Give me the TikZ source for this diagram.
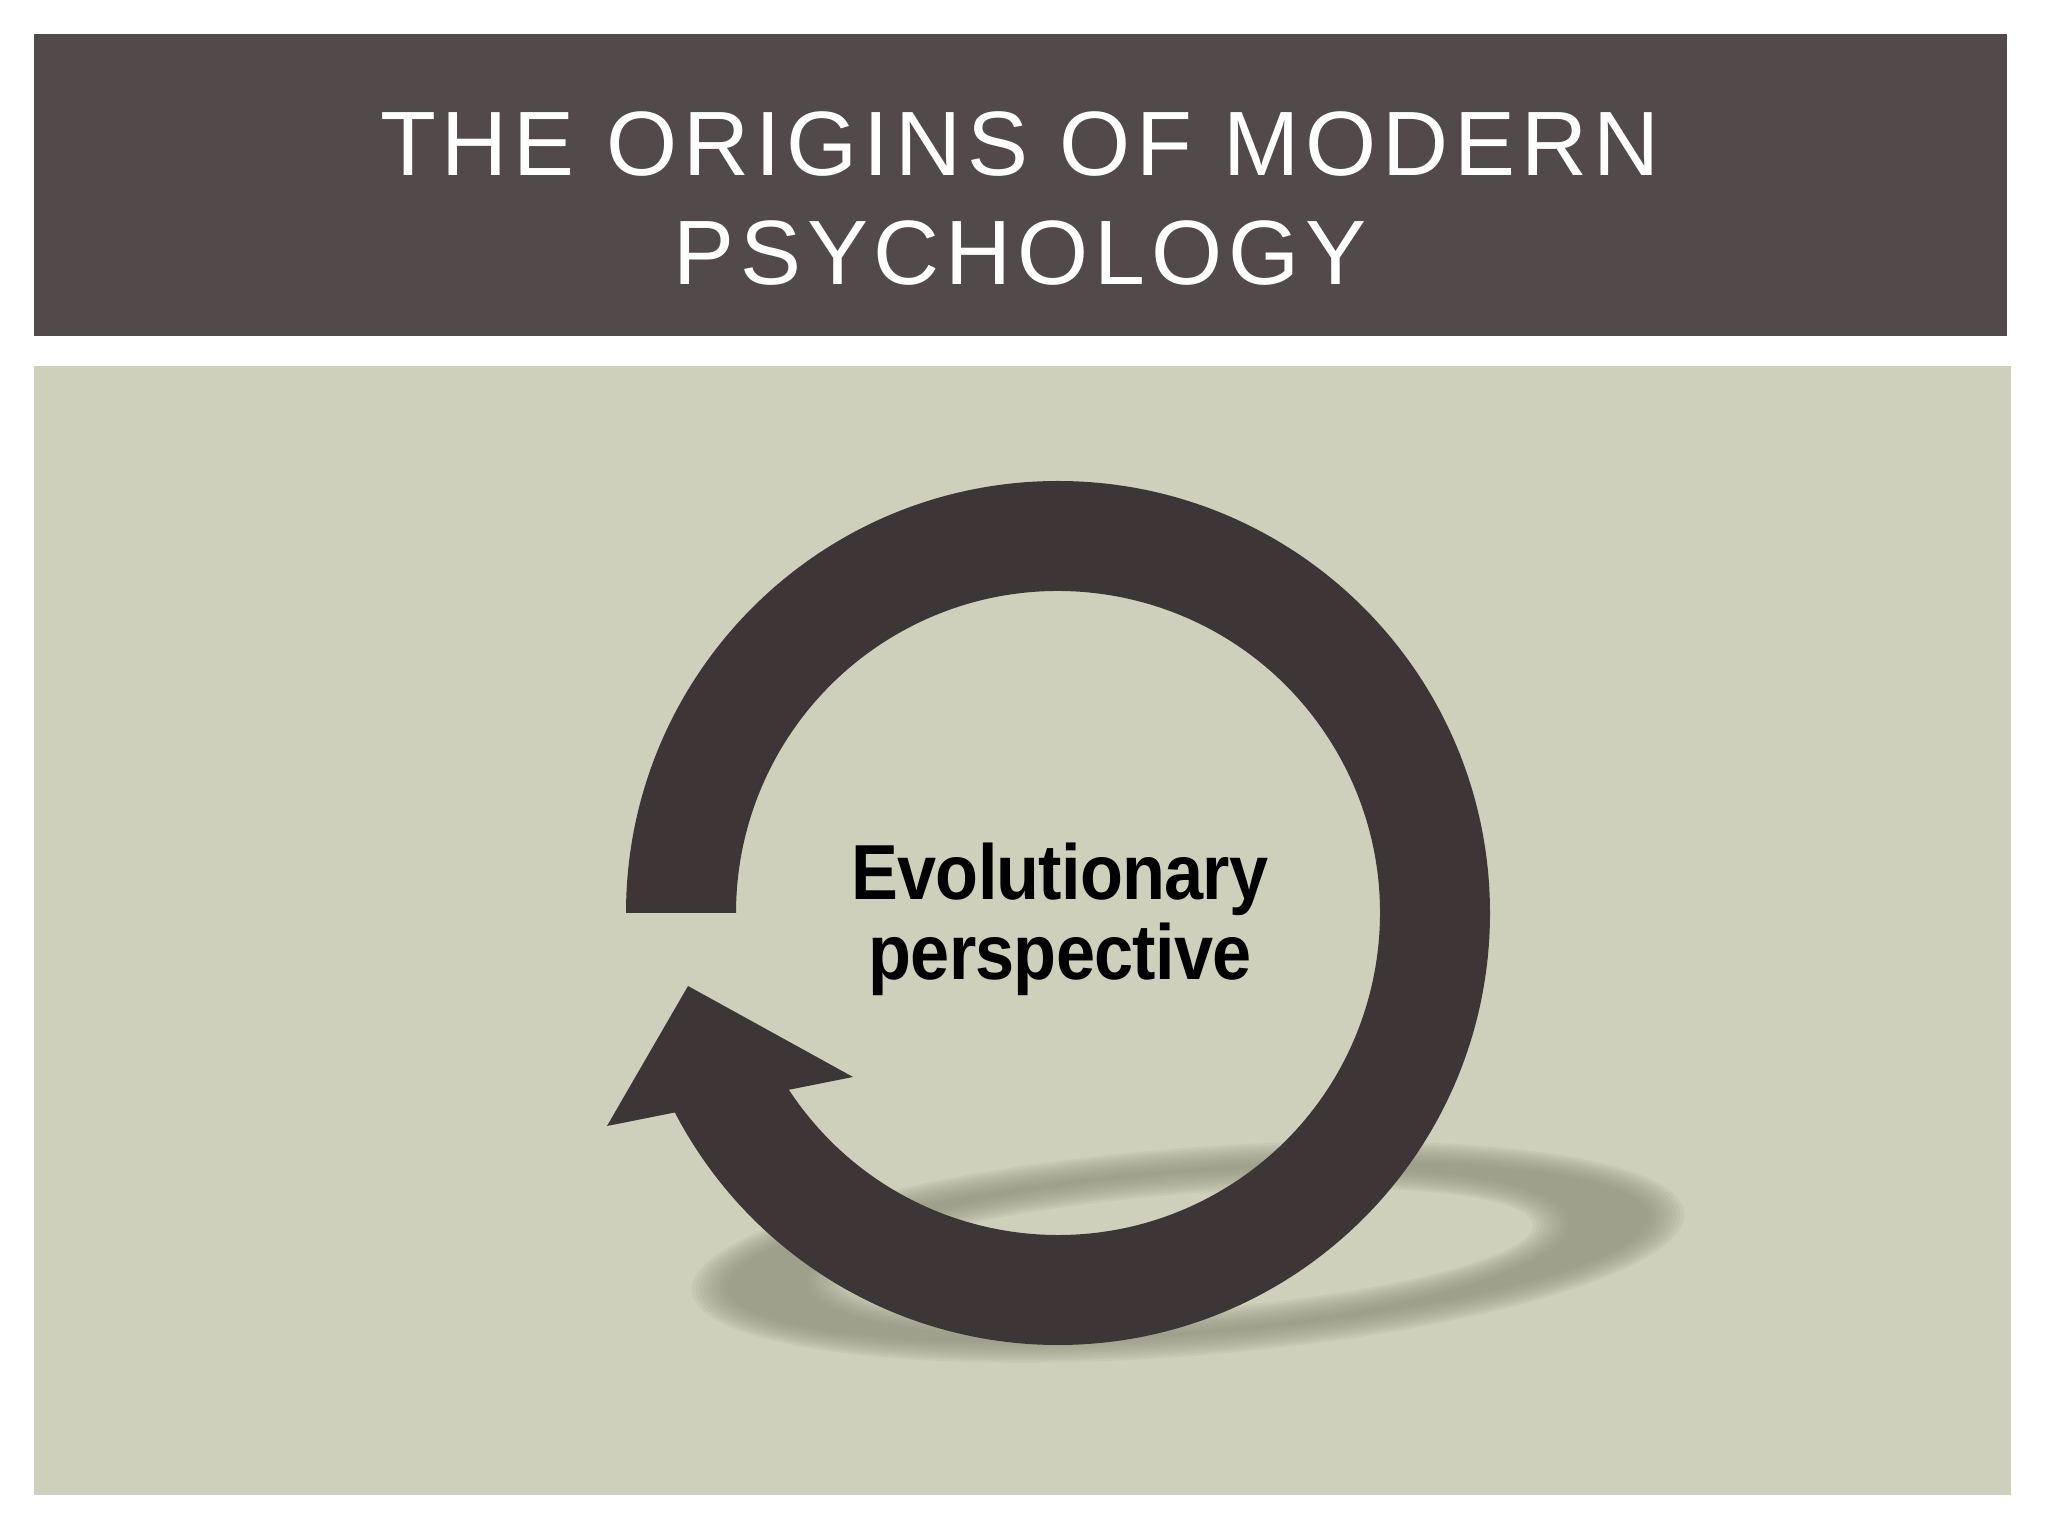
\documentclass[tikz,border=0pt]{standalone}
\usepackage{fontspec}
\setmainfont{Liberation Sans}
\newfontfamily\titlefont[LetterSpace=6.5]{Liberation Sans}
\newfontfamily\labelfont[FakeStretch=0.9, LetterSpace=-1]{Liberation Sans Bold}
\definecolor{barbrown}{HTML}{524A4A}
\definecolor{panelgreen}{HTML}{CED0BB}
\definecolor{ringbrown}{HTML}{3E3536}
\definecolor{shadowgreen}{HTML}{8E907C}

\begin{document}
\begin{tikzpicture}[x=0.01cm, y=0.01cm,
        titlebox/.style = {text=white,
            align=center,
            font=\titlefont\fontsize{26}{31}\selectfont},
        ringlabel/.style = {text=black,
            align=center,
            font=\labelfont\fontsize{22.2}{23}\selectfont}]

        \useasboundingbox (0,0) rectangle (2048,1536);

        % Title bar
        \fill[barbrown] (34,1200) rectangle (2007,1502);
        \node[titlebox, anchor=base] (title) at (1020,1251)
            {THE ORIGINS OF MODERN\\PSYCHOLOGY};

        % Panel
        \fill[panelgreen] (34,41) rectangle (2011,1170);

        % Shadow of the ring
        \coordinate (s) at (1188,284);
        \foreach \k in {0,...,9} {
            \fill[shadowgreen, opacity=0.11, even odd rule,
                rotate around={4.5:(s)}]
                (s) ellipse [x radius={498-4*\k}, y radius={104-2.4*\k}]
                (s) ellipse [x radius={346+4*\k}, y radius={58+2.4*\k}];
        }

        % Ring arrow
        \coordinate (c) at (1058,623);
        \fill[ringbrown] ([shift={(c)}]180:432)
            arc[start angle=180, end angle=-152.5, radius=432]
            -- (607,410) -- (688,550) -- (853,459)
            -- ([shift={(c)}]-146.7:322)
            arc[start angle=-146.7, end angle=180, radius=322]
            -- cycle;

        % Label
        \node[ringlabel, anchor=base] (evo) at (1060,556)
            {Evolutionary\\perspective};

    \end{tikzpicture}
\end{document}
